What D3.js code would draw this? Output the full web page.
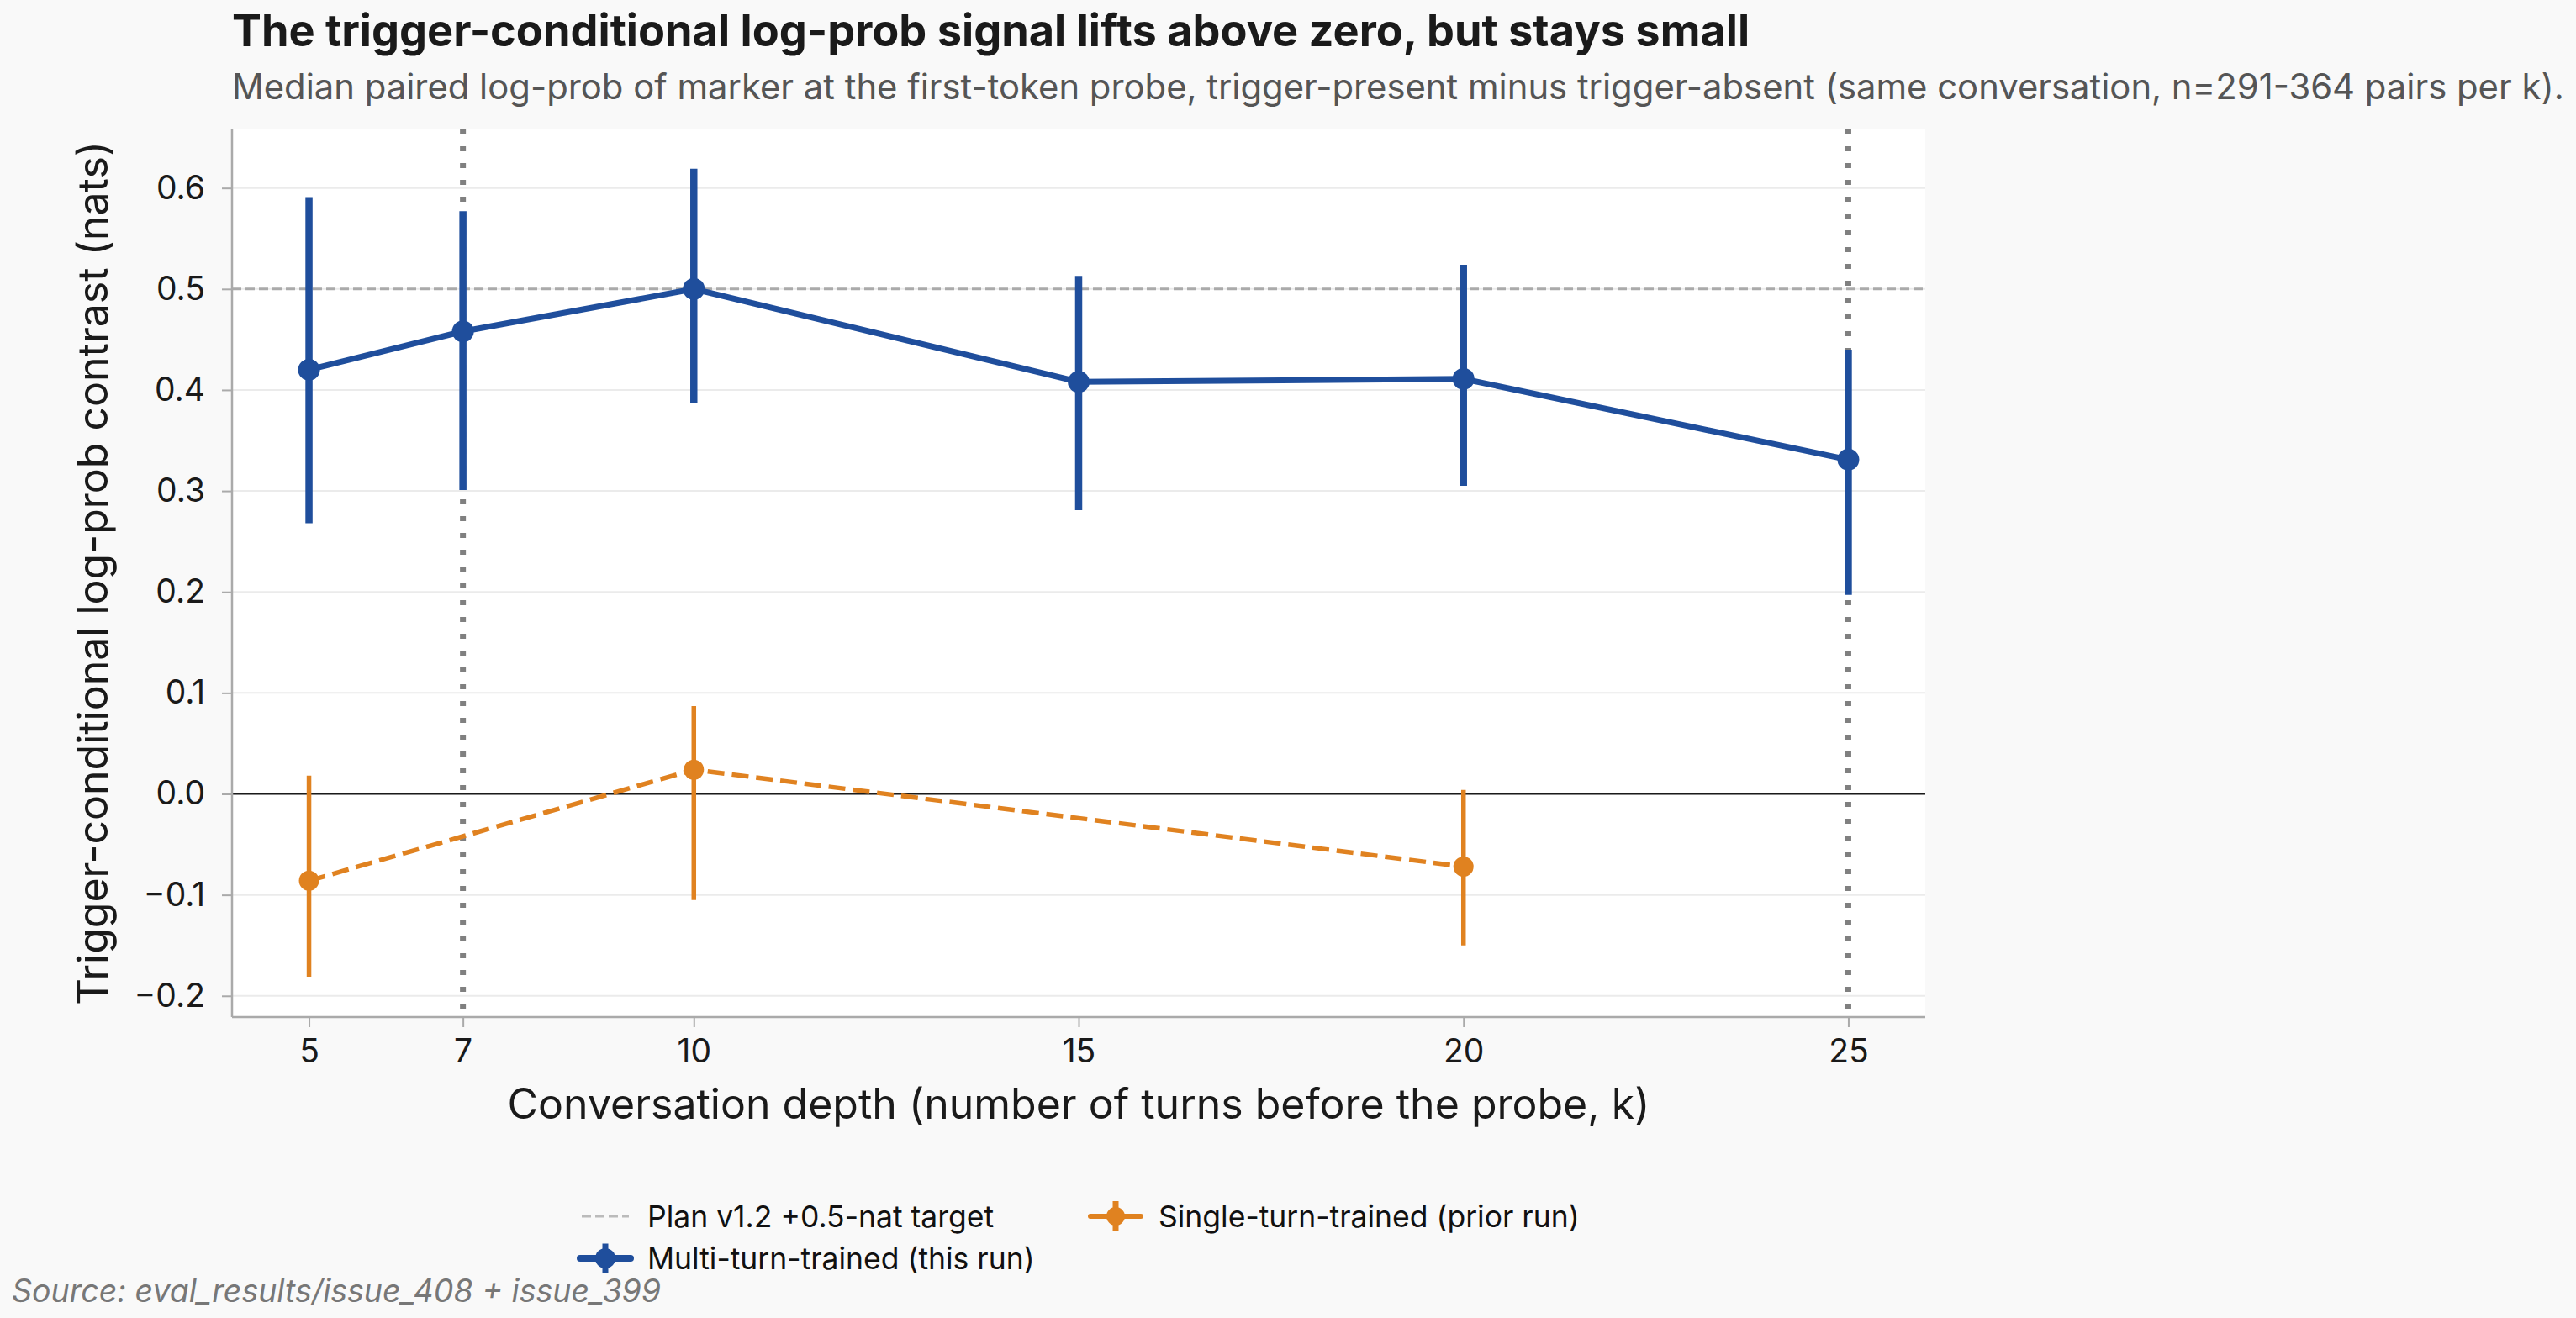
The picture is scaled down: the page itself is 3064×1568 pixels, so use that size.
<!DOCTYPE html>
<html>
<head>
<meta charset="utf-8">
<script src="https://cdn.jsdelivr.net/npm/d3@7"></script>
<style>
  html, body { margin: 0; padding: 0; background: #f9f9f9; }
  svg { display: block; font-family: Inter, "Noto Sans", sans-serif; }
</style>
</head>
<body>
<svg width="3064" height="1568"></svg>
<script>
// conversation depth k
var depths = [5, 7, 10, 15, 20, 25];
var xTicks = [5, 7, 10, 15, 20, 25];
var yTicks = [-0.2, -0.1, 0.0, 0.1, 0.2, 0.3, 0.4, 0.5, 0.6];

// multi-turn-trained (this run)
var multiMedian = [0.420, 0.458, 0.500, 0.408, 0.411, 0.331];
var multiLow    = [0.268, 0.301, 0.387, 0.281, 0.305, 0.197];
var multiHigh   = [0.591, 0.577, 0.619, 0.513, 0.524, 0.440];

// single-turn-trained (prior run)
var singleDepths = [5, 10, 20];
var singleMedian = [-0.086, 0.024, -0.072];
var singleLow    = [-0.181, -0.105, -0.150];
var singleHigh   = [0.018, 0.087, 0.004];

var targetValue = 0.5;
var markedDepths = [7, 25];

var blue = '#1f4e9c';
var orange = '#e08220';

var svg = d3.select('svg');

var plotLeft = 276, plotRight = 2290, plotTop = 154, plotBottom = 1210;

var xScale = d3.scaleLinear()
  .domain([4, 26])
  .range([plotLeft, plotRight]);

var yScale = d3.scaleLinear()
  .domain([-0.221, 0.658])
  .range([plotBottom, plotTop]);

// axes background
svg.append('rect')
  .attr('x', plotLeft).attr('y', plotTop)
  .attr('width', plotRight - plotLeft).attr('height', plotBottom - plotTop)
  .attr('fill', '#ffffff');

// grid
svg.append('g')
  .selectAll('line')
  .data(yTicks)
  .enter()
  .append('line')
    .attr('x1', plotLeft).attr('x2', plotRight)
    .attr('y1', function(d) { return yScale(d); })
    .attr('y2', function(d) { return yScale(d); })
    .attr('stroke', '#ebebeb')
    .attr('stroke-width', 2);

// zero line
svg.append('line')
  .attr('x1', plotLeft).attr('x2', plotRight)
  .attr('y1', yScale(0)).attr('y2', yScale(0))
  .attr('stroke', '#1a1a1a')
  .attr('stroke-width', 2.2);

// target line
svg.append('line')
  .attr('x1', plotLeft).attr('x2', plotRight)
  .attr('y1', yScale(targetValue)).attr('y2', yScale(targetValue))
  .attr('stroke', '#aaaaaa')
  .attr('stroke-width', 3)
  .attr('stroke-dasharray', '11,5');

// dotted markers at k=7 and k=25
svg.append('g')
  .selectAll('line')
  .data(markedDepths)
  .enter()
  .append('line')
    .attr('x1', function(d) { return xScale(d); })
    .attr('x2', function(d) { return xScale(d); })
    .attr('y1', plotTop).attr('y2', plotBottom)
    .attr('stroke', '#808080')
    .attr('stroke-width', 7)
    .attr('stroke-dasharray', '6,14');

// axes
var xAxis = d3.axisBottom(xScale)
  .tickValues(xTicks)
  .tickFormat(d3.format('d'))
  .tickSize(12)
  .tickPadding(14);

var yAxis = d3.axisLeft(yScale)
  .tickValues(yTicks)
  .tickFormat(function(d) { return d3.format('.1f')(d).replace('-', '\u2212'); })
  .tickSize(12)
  .tickPadding(20);

var gx = svg.append('g')
  .attr('transform', 'translate(0,' + plotBottom + ')')
  .call(xAxis);

var gy = svg.append('g')
  .attr('transform', 'translate(' + plotLeft + ',0)')
  .call(yAxis);

[gx, gy].forEach(function(g) {
  g.select('.domain').attr('stroke', '#aaaaaa').attr('stroke-width', 2.5);
  g.selectAll('.tick line').attr('stroke', '#aaaaaa').attr('stroke-width', 2);
  g.selectAll('.tick text')
    .attr('fill', '#1a1a1a')
    .attr('font-family', 'Inter')
    .attr('font-size', 39);
});
gx.select('.domain').attr('d', 'M' + plotLeft + ',0H' + plotRight);
gy.select('.domain').attr('d', 'M0,' + plotTop + 'V' + plotBottom);

// series
var multi = depths.map(function(k, i) {
  return { k: k, v: multiMedian[i], lo: multiLow[i], hi: multiHigh[i] };
});
var single = singleDepths.map(function(k, i) {
  return { k: k, v: singleMedian[i], lo: singleLow[i], hi: singleHigh[i] };
});

var line = d3.line()
  .x(function(d) { return xScale(d.k); })
  .y(function(d) { return yScale(d.v); });

function drawSeries(data, color, lineWidth, dash, barWidth, radius) {
  var g = svg.append('g');
  g.append('path')
    .datum(data)
    .attr('d', line)
    .attr('fill', 'none')
    .attr('stroke', color)
    .attr('stroke-width', lineWidth)
    .attr('stroke-dasharray', dash);
  g.selectAll('line.err')
    .data(data)
    .enter()
    .append('line')
      .attr('class', 'err')
      .attr('x1', function(d) { return xScale(d.k); })
      .attr('x2', function(d) { return xScale(d.k); })
      .attr('y1', function(d) { return yScale(d.lo); })
      .attr('y2', function(d) { return yScale(d.hi); })
      .attr('stroke', color)
      .attr('stroke-width', barWidth);
  g.selectAll('circle')
    .data(data)
    .enter()
    .append('circle')
      .attr('cx', function(d) { return xScale(d.k); })
      .attr('cy', function(d) { return yScale(d.v); })
      .attr('r', radius)
      .attr('fill', color);
}

drawSeries(single, orange, 5.5, '20,9', 5.5, 12);
drawSeries(multi, blue, 7, null, 8.5, 13);

// titles
svg.append('text')
  .attr('x', plotLeft).attr('y', 55)
  .attr('font-size', 52.3)
  .attr('font-weight', 700)
  .attr('fill', '#1a1a1a')
  .text('The trigger-conditional log-prob signal lifts above zero, but stays small');

svg.append('text')
  .attr('x', plotLeft).attr('y', 118)
  .attr('font-size', 41.8)
  .attr('fill', '#555555')
  .text('Median paired log-prob of marker at the first-token probe, trigger-present minus trigger-absent (same conversation, n=291-364 pairs per k).');

svg.append('text')
  .attr('x', (plotLeft + plotRight) / 2).attr('y', 1331)
  .attr('text-anchor', 'middle')
  .attr('font-size', 50)
  .attr('fill', '#1a1a1a')
  .text('Conversation depth (number of turns before the probe, k)');

svg.append('text')
  .attr('transform', 'translate(128,' + ((plotTop + plotBottom) / 2) + ') rotate(-90)')
  .attr('text-anchor', 'middle')
  .attr('font-size', 50)
  .attr('fill', '#1a1a1a')
  .text('Trigger-conditional log-prob contrast (nats)');

// legend
var legend = svg.append('g');
legend.append('line')
  .attr('x1', 692).attr('x2', 748).attr('y1', 1447).attr('y2', 1447)
  .attr('stroke', '#bbbbbb').attr('stroke-width', 3).attr('stroke-dasharray', '11,5');
legend.append('text')
  .attr('x', 770).attr('y', 1460)
  .attr('font-size', 35.5).attr('fill', '#111111')
  .text('Plan v1.2 +0.5-nat target');

function errHandle(cx, cy, color, lw, barH, r) {
  legend.append('line')
    .attr('x1', cx - 30).attr('x2', cx + 30).attr('y1', cy).attr('y2', cy)
    .attr('stroke', color).attr('stroke-width', lw).attr('stroke-linecap', 'round');
  legend.append('line')
    .attr('x1', cx).attr('x2', cx).attr('y1', cy - barH / 2).attr('y2', cy + barH / 2)
    .attr('stroke', color).attr('stroke-width', 7);
  legend.append('circle')
    .attr('cx', cx).attr('cy', cy).attr('r', r).attr('fill', color);
}
errHandle(720, 1497, blue, 8, 35, 12);
legend.append('text')
  .attr('x', 770).attr('y', 1510)
  .attr('font-size', 35.5).attr('fill', '#111111')
  .text('Multi-turn-trained (this run)');

errHandle(1327, 1447, orange, 6, 36, 11);
legend.append('text')
  .attr('x', 1378).attr('y', 1460)
  .attr('font-size', 35.5).attr('fill', '#111111')
  .text('Single-turn-trained (prior run)');

// source
svg.append('text')
  .attr('x', 14).attr('y', 1549)
  .attr('font-size', 37.5)
  .attr('font-style', 'italic')
  .attr('fill', '#777777')
  .text('Source: eval_results/issue_408 + issue_399');
</script>
</body>
</html>
